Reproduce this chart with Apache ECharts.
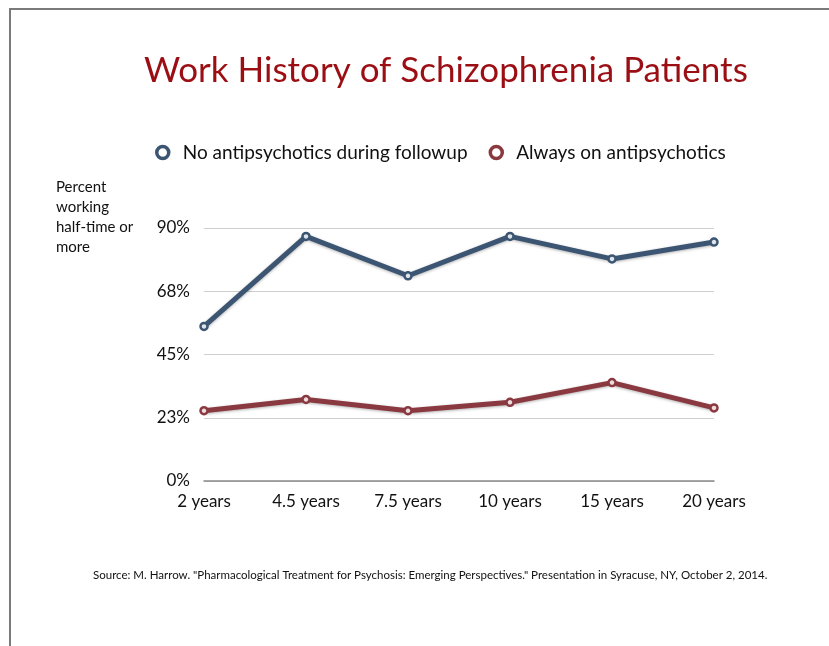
<!DOCTYPE html>
<html>
<head>
<meta charset="utf-8">
<script src="https://cdn.jsdelivr.net/npm/echarts@6/dist/echarts.min.js"></script>
<style>html,body{margin:0;padding:0;background:#fff;}#c{width:829px;height:646px;}</style>
</head>
<body>
<div id="c"></div>
<script>
var categories = ['2 years', '4.5 years', '7.5 years', '10 years', '15 years', '20 years'];
var noAntipsychotics = [55, 87, 73, 87, 79, 85];
var alwaysOnAntipsychotics = [25, 29, 25, 28, 35, 26];
var seriesNames = ['No antipsychotics during followup', 'Always on antipsychotics'];
var titleText = 'Work History of Schizophrenia Patients';
var yAxisName = 'Percent\nworking\nhalf-time or\nmore';
var sourceText = 'Source: M. Harrow. "Pharmacological Treatment for Psychosis: Emerging Perspectives." Presentation in Syracuse, NY, October 2, 2014.';

var BLUE = '#3b5572';
var RED = '#8a3940';
var FONT = 'Lato, "Open Sans", sans-serif';
var chart = echarts.init(document.getElementById('c'), null, {renderer: 'canvas'});
chart.setOption({
  backgroundColor: '#ffffff',
  animation: false,
  title: {
    text: titleText,
    left: 139,
    top: 48,
    textStyle: {color: '#9b0e13', fontSize: 35, fontWeight: 'normal', fontFamily: FONT}
  },
  legend: {
    top: 138,
    left: 150,
    itemWidth: 12,
    itemHeight: 12,
    itemGap: 21,
    icon: 'circle',
    textStyle: {color: '#111', fontSize: 19, fontFamily: FONT, padding: [0, 0, 0, 9]},
    data: [
      {name: seriesNames[0], itemStyle: {color: '#ffffff', borderColor: BLUE, borderWidth: 3.5}},
      {name: seriesNames[1], itemStyle: {color: '#ffffff', borderColor: RED, borderWidth: 3.5}}
    ]
  },
  grid: {left: 204, right: 115, top: 228, bottom: 165},
  xAxis: {
    type: 'category',
    data: categories,
    boundaryGap: false,
    axisLine: {show: true, lineStyle: {color: '#8a8a8a', width: 1.5}},
    axisTick: {show: false},
    axisLabel: {color: '#111', fontSize: 17, fontFamily: FONT, margin: 12}
  },
  yAxis: {
    type: 'value',
    min: 0,
    max: 90,
    interval: 22.5,
    axisLine: {show: false},
    axisTick: {show: false},
    splitLine: {lineStyle: {color: '#cfcfcf', width: 1}},
    axisLabel: {
      color: '#111', fontSize: 17, fontFamily: FONT, margin: 14,
      formatter: function (v) { return Math.round(v) + '%'; }
    }
  },
  series: [
    {
      name: seriesNames[0],
      type: 'line',
      data: noAntipsychotics,
      color: BLUE,
      symbol: 'circle',
      symbolSize: 7,
      lineStyle: {width: 5, color: BLUE, shadowColor: 'rgba(0,0,0,0.3)', shadowBlur: 3, shadowOffsetY: 1},
      itemStyle: {color: '#dfe4ea', borderColor: BLUE, borderWidth: 2.5}
    },
    {
      name: seriesNames[1],
      type: 'line',
      data: alwaysOnAntipsychotics,
      color: RED,
      symbol: 'circle',
      symbolSize: 7,
      lineStyle: {width: 5, color: RED, shadowColor: 'rgba(0,0,0,0.3)', shadowBlur: 3, shadowOffsetY: 1},
      itemStyle: {color: '#eddcdd', borderColor: RED, borderWidth: 2.5}
    }
  ],
  graphic: [
    {type: 'line', shape: {x1: 9, y1: 9, x2: 829, y2: 9}, style: {stroke: '#7a7a7a', lineWidth: 2}},
    {type: 'line', shape: {x1: 10, y1: 9, x2: 10, y2: 646}, style: {stroke: '#7a7a7a', lineWidth: 2}},
    {
      type: 'text', left: 56, top: 177,
      style: {text: yAxisName, fill: '#111', font: '15px ' + FONT, lineHeight: 20}
    },
    {
      type: 'text', left: 93, top: 569,
      style: {text: sourceText, fill: '#111', font: '11.5px ' + FONT}
    }
  ]
});
</script>
</body>
</html>
